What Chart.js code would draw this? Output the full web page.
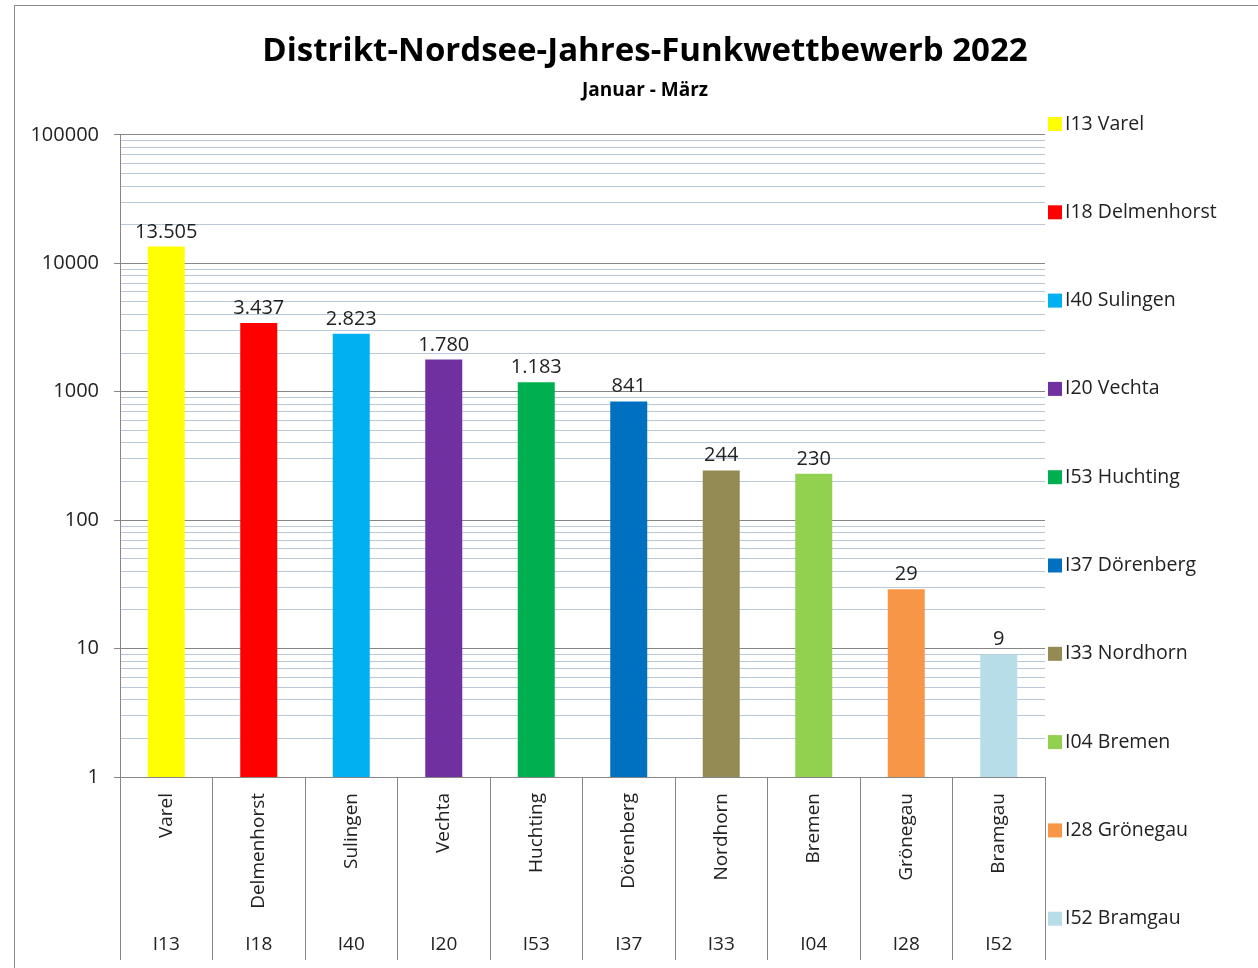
<!DOCTYPE html>
<html>
  <head>
    <title>Distrikt-Nordsee-Jahres-Funkwettbewerb 2022</title>
    <script src="https://cdn.jsdelivr.net/npm/chart.js"></script>
    <style>
      html, body {
        margin: 0;
        overflow: hidden;
        background: #fff;
      }
      #frame {
        position: absolute;
        left: 14px;
        top: 5px;
        border-left: 1px solid #8c8c8c;
        border-top: 1px solid #8c8c8c;
      }
      canvas {
        display: block;
      }
    </style>
  </head>
  <body>
    <div id="frame">
      <canvas id="funkChart" width="1260" height="962"></canvas>
    </div>
    <script>
      // data
      const codes = ["I13", "I18", "I40", "I20", "I53", "I37", "I33", "I04", "I28", "I52"];
      const names = ["Varel", "Delmenhorst", "Sulingen", "Vechta", "Huchting", "Dörenberg", "Nordhorn", "Bremen", "Grönegau", "Bramgau"];
      const points = [13505, 3437, 2823, 1780, 1183, 841, 244, 230, 29, 9];
      const colors = ["#ffff00", "#ff0000", "#00b0f0", "#7030a0", "#00b050", "#0070c0", "#948a54", "#92d050", "#f79646", "#b7dde8"];
      const yTickLabels = [1, 10, 100, 1000, 10000, 100000];

      const FONT = "'Open Sans', 'DejaVu Sans', sans-serif";
      const TEXT = "#222222";
      const MAJOR = "#868686";
      const MINOR = "#b9c8d8";

      const isMajor = v => yTickLabels.includes(v);
      const fmt = v => String(v).replace(/\B(?=(\d{3})+(?!\d))/g, ".");

      // numbers above the bars
      const valueLabels = {
        id: "valueLabels",
        afterDatasetsDraw(chart) {
          const ctx = chart.ctx;
          const meta = chart.getDatasetMeta(0);
          ctx.save();
          ctx.font = "20px " + FONT;
          ctx.fillStyle = TEXT;
          ctx.textAlign = "center";
          ctx.textBaseline = "alphabetic";
          meta.data.forEach((bar, i) => {
            ctx.fillText(fmt(points[i]), bar.x, bar.y - 9);
          });
          ctx.restore();
        },
      };

      // legend column on the right, one entry per bar
      const sideLegend = {
        id: "sideLegend",
        start(chart) {
          const box = {
            position: "right",
            weight: 1000,
            fullSize: true,
            options: {},
            left: 0, top: 0, right: 0, bottom: 0, width: 0, height: 0,
            isHorizontal() {
              return false;
            },
            update(maxWidth, maxHeight) {
              this.width = 230;
              this.height = maxHeight;
            },
            draw() {
              const ctx = chart.ctx;
              ctx.save();
              ctx.font = "19.5px " + FONT;
              ctx.textBaseline = "middle";
              ctx.textAlign = "left";
              codes.forEach((code, i) => {
                const y = this.top + 118 + i * 88.3;
                ctx.fillStyle = colors[i];
                ctx.fillRect(this.left + 3, y - 7, 14, 14);
                ctx.fillStyle = TEXT;
                ctx.fillText(code + " " + names[i], this.left + 20, y);
              });
              ctx.restore();
            },
          };
          Chart.layouts.addBox(chart, box);
          chart.$sideLegend = box;
        },
        stop(chart) {
          Chart.layouts.removeBox(chart, chart.$sideLegend);
        },
      };

      const ctx = document.getElementById("funkChart").getContext("2d");
      const funkChart = new Chart(ctx, {
        type: "bar",
        data: {
          labels: names,
          datasets: [
            {
              label: "Punkte",
              data: points,
              backgroundColor: colors,
              categoryPercentage: 1,
              barPercentage: 0.4,
            },
          ],
        },
        plugins: [valueLabels, sideLegend],
        options: {
          responsive: false,
          animation: false,
          layout: {
            padding: { left: 0, right: 0, top: 0, bottom: 8 },
          },
          scales: {
            x: {
              type: "category",
              labels: names,
              weight: 0,
              afterFit: s => { s.height = 145; },
              border: { color: MAJOR },
              grid: {
                offset: true,
                drawOnChartArea: false,
                tickLength: 183,
                color: MAJOR,
              },
              ticks: {
                autoSkip: false,
                minRotation: 90,
                maxRotation: 90,
                padding: -167,
                color: TEXT,
                font: { family: FONT, size: 19 },
              },
            },
            codes: {
              type: "category",
              position: "bottom",
              labels: codes,
              weight: 1,
              afterFit: s => { s.height = 38; },
              border: { display: false },
              grid: { display: false },
              ticks: {
                autoSkip: false,
                maxRotation: 0,
                padding: 3,
                color: TEXT,
                font: { family: FONT, size: 19 },
              },
            },
            y: {
              type: "logarithmic",
              min: 1,
              max: 100000,
              afterFit: s => { s.width = 105; },
              afterBuildTicks: s => {
                const ticks = [];
                yTickLabels.forEach(base => {
                  for (let m = 1; m <= 9; m++) {
                    if (base * m <= 100000) ticks.push({ value: base * m });
                  }
                });
                s.ticks = ticks;
              },
              border: { color: MAJOR },
              grid: {
                color: c => (isMajor(c.tick.value) ? MAJOR : MINOR),
                tickColor: c => (isMajor(c.tick.value) ? MAJOR : "rgba(0,0,0,0)"),
                tickLength: 6,
              },
              ticks: {
                autoSkip: false,
                padding: 15,
                color: TEXT,
                font: { family: FONT, size: 20 },
                callback: v => (isMajor(v) ? String(v) : ""),
              },
            },
          },
          plugins: {
            legend: { display: false },
            tooltip: { enabled: false },
            title: {
              display: true,
              text: "Distrikt-Nordsee-Jahres-Funkwettbewerb 2022",
              color: "#000",
              font: { family: FONT, size: 33, weight: "bold" },
              padding: { top: 26, bottom: 4 },
            },
            subtitle: {
              display: true,
              text: "Januar - März",
              color: "#000",
              font: { family: FONT, size: 19, weight: "bold" },
              padding: { top: 4, bottom: 32.5 },
            },
          },
        },
      });
    </script>
  </body>
</html>
